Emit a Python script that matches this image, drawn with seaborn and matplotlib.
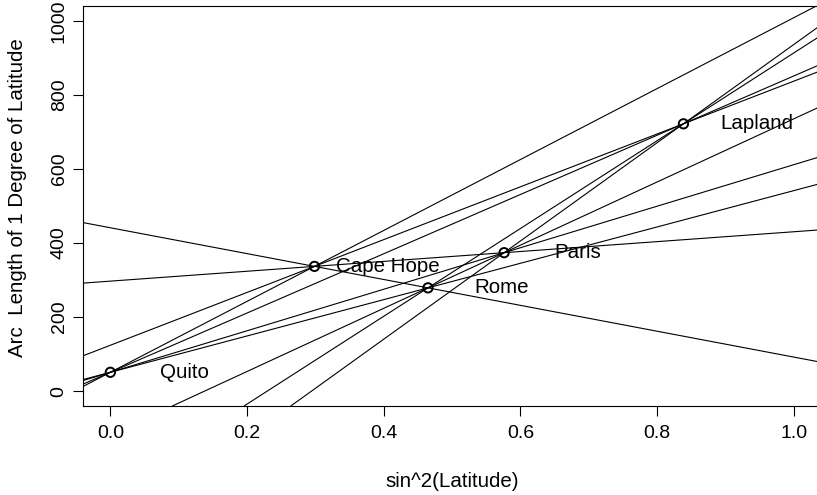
import itertools
import matplotlib
matplotlib.use("Agg")
import matplotlib.pyplot as plt
import seaborn as sns
import pandas as pd

# Boscovich arc measurements (toises - 56700)
places = ["Quito", "Cape Hope", "Rome", "Paris", "Lapland"]
sin2_lat = [0.0, 0.2987, 0.4648, 0.5762, 0.8386]
arc_length = [51, 337, 279, 374, 722]

df = pd.DataFrame({"place": places, "x": sin2_lat, "y": arc_length})

sns.set_style("white")
plt.rcParams["font.family"] = ["Liberation Sans", "DejaVu Sans"]
plt.rcParams["text.color"] = "black"
plt.rcParams["axes.labelcolor"] = "black"
plt.rcParams["xtick.color"] = "black"
plt.rcParams["ytick.color"] = "black"

fs = 14.8
fig = plt.figure(figsize=(8.17, 4.95), dpi=100)
ax = fig.add_axes([0.1016, 0.1798, 0.9034, 0.808])

# line through every pair of measurements
for i, j in itertools.combinations(range(len(df)), 2):
    ax.axline((df.x[i], df.y[i]), (df.x[j], df.y[j]), color="black", lw=0.8)

sns.scatterplot(data=df, x="x", y="y", ax=ax, marker="o", s=45,
                facecolor="none", edgecolor="black", linewidth=1.4, zorder=3)

for _, r in df.iterrows():
    ax.text(r.x + 0.108, r.y, r.place, ha="center", va="center", fontsize=fs)

ax.set_xlim(-0.04, 1.04)
ax.set_ylim(-40, 1040)
ax.set_xticks([0.0, 0.2, 0.4, 0.6, 0.8, 1.0])
ax.set_xticklabels(["0.0", "0.2", "0.4", "0.6", "0.8", "1.0"])
ax.set_yticks([0, 200, 400, 600, 800, 1000])
ax.set_yticklabels(["0", "200", "400", "600", "800", "1000"], rotation=90, va="center")
ax.tick_params(direction="out", length=7, width=0.8, labelsize=14,
               bottom=True, left=True)
ax.tick_params(axis="x", pad=7)
ax.tick_params(axis="y", pad=4)
for s in ax.spines.values():
    s.set_color("black")
    s.set_linewidth(0.8)

ax.set_xlabel("sin^2(Latitude)", fontsize=fs, labelpad=21)
ax.set_ylabel("Arc  Length of 1 Degree of Latitude", fontsize=fs)
ax.yaxis.set_label_coords(-0.076, 0.52)

fig.savefig("out.png", dpi=100)
